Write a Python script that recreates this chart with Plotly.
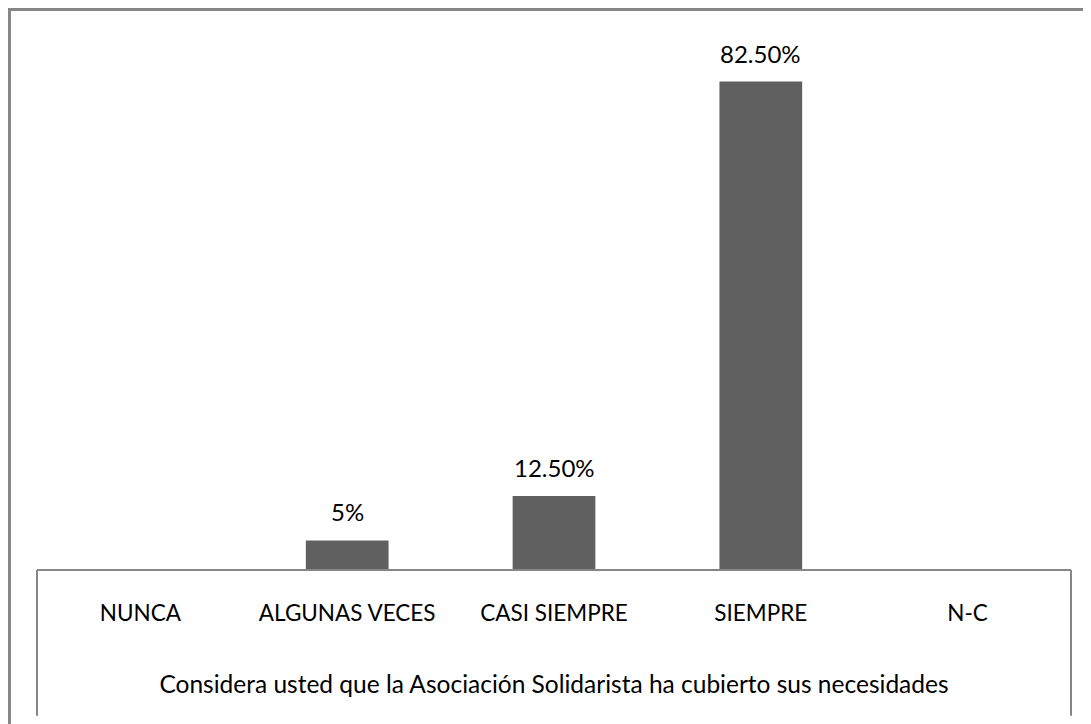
import plotly.graph_objects as go

# Datos del gráfico
categorias = ["NUNCA", "ALGUNAS VECES", "CASI SIEMPRE", "SIEMPRE", "N-C"]
porcentajes = [0, 5, 12.5, 82.5, 0]
etiquetas = ["", "5%", "12.50%", "82.50%", ""]
titulo_eje = "Considera usted que la Asociación Solidarista ha cubierto sus necesidades"

FUENTE = "Lato"
GRIS = "#868686"

fig = go.Figure()
fig.add_trace(go.Bar(
    x=categorias,
    y=porcentajes,
    width=0.4,
    marker=dict(color="#606060", line=dict(width=0)),
    hoverinfo="x+y",
))

# etiquetas de datos sobre las barras
anotaciones = []
for cat, val, lab in zip(categorias, porcentajes, etiquetas):
    if lab:
        anotaciones.append(dict(
            x=cat, y=val, text=lab, showarrow=False,
            yanchor="bottom", yshift=12,
            font=dict(family=FUENTE, size=24, color="#000000"),
        ))

# marcos: el exterior y la caja de categorias
# (la pagina tiene 8px de margen, asi que la figura es 1083x716)
marcos = [
    dict(type="line", xref="paper", yref="paper", x0=-0.0266, x1=-0.0266, y0=1.039, y1=-0.31,
         line=dict(color=GRIS, width=3)),
    dict(type="line", xref="paper", yref="paper", x0=-0.028, x1=1.03, y0=1.038, y1=1.038,
         line=dict(color=GRIS, width=3)),
    dict(type="line", xref="paper", yref="paper", x0=0, x1=1, y0=0, y1=0,
         line=dict(color=GRIS, width=2)),
    dict(type="line", xref="paper", yref="paper", x0=0, x1=0, y0=0, y1=-0.27,
         line=dict(color=GRIS, width=2)),
    dict(type="line", xref="paper", yref="paper", x0=1, x1=1, y0=0, y1=-0.27,
         line=dict(color=GRIS, width=2)),
]

fig.update_layout(
    width=1083, height=716,
    margin=dict(l=29, r=20, t=22, b=154),
    paper_bgcolor="white", plot_bgcolor="white",
    showlegend=False,
    font=dict(family=FUENTE, size=22, color="#000000"),
    xaxis=dict(
        showgrid=False, showline=False, zeroline=False,
        ticks="outside", ticklen=23, tickcolor="rgba(0,0,0,0)",
        tickfont=dict(family=FUENTE, size=22.5, color="#000000"),
        title=dict(text=titulo_eje, standoff=50,
                   font=dict(family=FUENTE, size=24.5, color="#000000")),
    ),
    yaxis=dict(range=[0, 91.2], visible=False, showgrid=False, zeroline=False),
    annotations=anotaciones,
    shapes=marcos,
)

fig.write_html("out.html")
